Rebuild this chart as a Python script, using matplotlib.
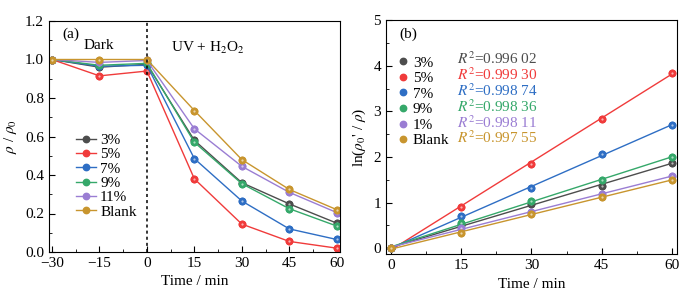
import numpy as np
import matplotlib
matplotlib.use("Agg")
import matplotlib.pyplot as plt
from matplotlib.ticker import MultipleLocator

plt.rcParams['font.family'] = ['Liberation Serif', 'DejaVu Serif']
plt.rcParams['mathtext.fontset'] = 'stix'
plt.rcParams['font.size'] = 11

# data
labels = ["3%", "5%", "7%", "9%", "11%", "Blank"]
labels_b = ["3%", "5%", "7%", "9%", "1%", "Blank"]
colors = ["#4d4d4d", "#f03b3b", "#2e6ec4", "#35a86a", "#9a7dd3", "#c8952e"]

t_a = [-30, -15, 0, 15, 30, 45, 60]
rho_3 = [1.0, 0.96, 0.975, 0.58, 0.36, 0.25, 0.15]
rho_5 = [1.0, 0.915, 0.94, 0.38, 0.145, 0.055, 0.02]
rho_7 = [1.0, 0.965, 0.97, 0.485, 0.265, 0.12, 0.065]
rho_9 = [1.0, 0.97, 0.98, 0.57, 0.355, 0.225, 0.135]
rho_11 = [1.0, 0.985, 0.995, 0.64, 0.445, 0.31, 0.205]
rho_blank = [1.0, 1.0, 1.0, 0.735, 0.48, 0.325, 0.22]

t_b = [0, 15, 30, 45, 60]
ln_3 = [0, 0.50, 0.97, 1.36, 1.87]
ln_5 = [0, 0.91, 1.85, 2.84, 3.85]
ln_7 = [0, 0.70, 1.31, 2.06, 2.70]
ln_9 = [0, 0.56, 1.03, 1.49, 2.00]
ln_11 = [0, 0.45, 0.80, 1.18, 1.58]
ln_blank = [0, 0.33, 0.74, 1.12, 1.50]
r2 = ["0.996 02", "0.999 30", "0.998 74", "0.998 36", "0.998 11", "0.997 55"]

rho_all = [rho_3, rho_5, rho_7, rho_9, rho_11, rho_blank]
ln_all = [ln_3, ln_5, ln_7, ln_9, ln_11, ln_blank]

MS = 4.6

fig = plt.figure(figsize=(6.88, 3.0), dpi=100)
ax1 = fig.add_axes([0.071, 0.16, 0.423, 0.77])
ax2 = fig.add_axes([0.561, 0.153, 0.423, 0.78])

def ball(ax, x, y, c, ms=MS):
    ax.plot(x, y, 'o', ms=ms, mfc=c, mec=c, lw=0)
    ax.plot(x, y, 'o', ms=ms * 0.35, mfc='white', mec='none', alpha=0.6)

# (a)
for y, c, lab in zip(rho_all, colors, labels):
    ax1.plot(t_a, y, '-o', color=c, lw=1.0, ms=MS, label=lab)
    ball(ax1, t_a, y, c)
ax1.axvline(0, color='black', ls=(0, (2, 2)), lw=1.1)
ax1.set_xlim(-31, 61)
ax1.set_ylim(0, 1.2)
ax1.set_xticks([-30, -15, 0, 15, 30, 45, 60])
ax1.set_xticklabels(["\u221230", "\u221215", "0", "15", "30", "45", "60"])
ax1.xaxis.set_minor_locator(MultipleLocator(7.5))
ax1.yaxis.set_major_locator(MultipleLocator(0.2))
ax1.yaxis.set_minor_locator(MultipleLocator(0.1))
ax1.set_xlabel("Time / min")
ax1.set_ylabel(r"$\rho$ / $\rho_0$")
ax1.text(0.045, 0.97, "(a)", transform=ax1.transAxes, va='top')
ax1.text(0.12, 0.92, "Dark", transform=ax1.transAxes, va='top')
ax1.text(0.42, 0.92, r"UV + H$_2$O$_2$", transform=ax1.transAxes, va='top')
ax1.legend(loc='lower left', bbox_to_anchor=(0.045, 0.085), frameon=False,
           handlelength=1.3, handletextpad=0.3, labelspacing=0.04, fontsize=11)

# (b)
xf = np.linspace(0, 60, 50)
handles = []
for y, c, lab in zip(ln_all, colors, labels_b):
    k, b = np.polyfit(t_b, y, 1)
    ax2.plot(xf, k * xf + b, '-', color=c, lw=1.0)
    h, = ax2.plot(t_b, y, 'o', color=c, ms=MS, label=lab)
    ball(ax2, t_b, y, c)
    handles.append(h)
ax2.set_xlim(-1.1, 61.1)
ax2.set_ylim(-0.13, 5)
ax2.set_xticks([0, 15, 30, 45, 60])
ax2.xaxis.set_minor_locator(MultipleLocator(7.5))
ax2.yaxis.set_major_locator(MultipleLocator(1))
ax2.yaxis.set_minor_locator(MultipleLocator(0.5))
ax2.set_xlabel("Time / min")
ax2.set_ylabel(r"ln($\rho_0$' / $\rho$)")
ax2.text(0.045, 0.97, "(b)", transform=ax2.transAxes, va='top')
ax2.legend(handles=handles, loc='upper left', bbox_to_anchor=(-0.005, 0.905), frameon=False,
           handlelength=0.6, handletextpad=0.35, labelspacing=0.12, fontsize=11)
for i, (c, r) in enumerate(zip(colors, r2)):
    ax2.text(0.245, 0.833 - i * 0.0675, r"$R^2$=" + r, color=c, transform=ax2.transAxes,
             va='center', fontsize=11)

for ax in (ax1, ax2):
    ax.tick_params(which='both', direction='in', top=False, right=False)
    ax.tick_params(which='major', length=4)
    ax.tick_params(which='minor', length=2.5)

fig.savefig("out.png", dpi=100)
